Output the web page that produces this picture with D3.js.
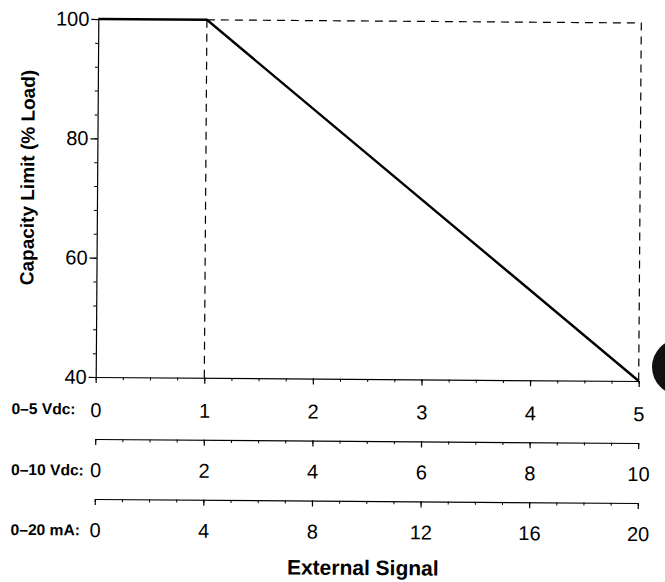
<!DOCTYPE html>
<html>
<head>
<meta charset="utf-8">
<script src="https://cdn.jsdelivr.net/npm/d3@7"></script>
<style>
  html, body { margin: 0; padding: 0; background: #fff; }
  svg { display: block; font-family: "Liberation Sans", Arial, Helvetica, sans-serif; }
</style>
</head>
<body>
<div id="chart"></div>
<script>
// capacity limit vs. external signal (signal read on the 0-5 Vdc scale)
const signal = [0, 1, 5];
const capacityLimit = [100, 100, 40];

// dashed guide lines
const guideSignal = [1, 5];
const yTicks = [40, 60, 80, 100];

// the three signal scales under the plot
const rowLabels = ["0–5 Vdc:", "0–10 Vdc:", "0–20 mA:"];
const rowMax = [5, 10, 20];
const rowTicks = [
    [0, 1, 2, 3, 4, 5],
    [0, 2, 4, 6, 8, 10],
    [0, 4, 8, 12, 16, 20]
];

const width = 665, height = 582;
const plotLeft = 97, plotRight = 640, plotTop = 21, plotBottom = 379;
const rowY = [379, 441, 501];
const labelDrop = [40, 38, 38];
const rowLabelBase = [416.5, 477.5, 537.5];

const svg = d3.select('#chart').append('svg')
    .attr('width', width)
    .attr('height', height);

// the scan sits slightly rotated
const g = svg.append('g')
    .attr('transform', 'rotate(0.42, 367, 200)');

const x = d3.scaleLinear().domain([0, 5]).range([plotLeft, plotRight]);
const y = d3.scaleLinear().domain([40, 100]).range([plotBottom, plotTop]);

const styleLabels = a => a.selectAll('text')
    .attr('font-size', 20)
    .attr('font-family', '"Liberation Sans", Arial, sans-serif')
    .attr('fill', '#000');

// y axis
const yMinor = d3.range(40, 100.001, 4);
g.append('g')
    .attr('transform', `translate(${plotLeft},0)`)
    .call(d3.axisLeft(y).tickValues(yMinor).tickSize(3).tickSizeOuter(0).tickFormat(''))
    .call(a => a.select('.domain').attr('stroke-width', 1.2));
g.append('g')
    .attr('transform', `translate(${plotLeft},0)`)
    .call(d3.axisLeft(y).tickValues(yTicks).tickSize(7).tickPadding(2).tickSizeOuter(0).tickFormat(d3.format('d')))
    .call(a => a.select('.domain').remove())
    .call(a => a.selectAll('line').attr('stroke-width', 1.2))
    .call(styleLabels);

// three x scales
rowMax.forEach((m, i) => {
    const sx = d3.scaleLinear().domain([0, m]).range([plotLeft, plotRight]);
    const minor = d3.range(0, m + 1e-6, m / 20);
    const row = g.append('g').attr('transform', `translate(0,${rowY[i]})`);
    row.append('g')
        .call(d3.axisBottom(sx).tickValues(minor).tickSize(3).tickSizeOuter(0).tickFormat(''))
        .call(a => a.select('.domain').attr('stroke-width', 1.2));
    row.append('g')
        .call(d3.axisBottom(sx).tickValues(rowTicks[i]).tickSize(6).tickSizeOuter(0)
            .tickPadding(labelDrop[i] - 6 - 14.2).tickFormat(d3.format('d')))
        .call(a => a.select('.domain').remove())
        .call(a => a.selectAll('line').attr('stroke-width', 1.2))
        .call(styleLabels);
    g.append('text')
        .attr('x', 13)
        .attr('y', rowLabelBase[i])
        .attr('font-size', 15.6)
        .attr('font-weight', 'bold')
        .text(rowLabels[i]);
});

// dashed guides
g.append('path')
    .attr('d', d3.line()([
        [x(guideSignal[0]), y(100)], [x(guideSignal[1]), y(100)], [x(guideSignal[1]), y(40)]
    ]))
    .attr('fill', 'none')
    .attr('stroke', '#000')
    .attr('stroke-width', 1.2)
    .attr('stroke-dasharray', '8,6');
g.append('path')
    .attr('d', d3.line()([[x(guideSignal[0]), y(100)], [x(guideSignal[0]), y(40)]]))
    .attr('fill', 'none')
    .attr('stroke', '#000')
    .attr('stroke-width', 1.2)
    .attr('stroke-dasharray', '8,6');

// the limit curve
g.append('path')
    .datum(signal.map((s, i) => [s, capacityLimit[i]]))
    .attr('d', d3.line().x(d => x(d[0])).y(d => y(d[1])))
    .attr('fill', 'none')
    .attr('stroke', '#000')
    .attr('stroke-width', 2.4);

// axis titles
g.append('text')
    .attr('transform', 'translate(34,180) rotate(-90)')
    .attr('text-anchor', 'middle')
    .attr('font-size', 19)
    .attr('font-weight', 'bold')
    .text('Capacity Limit (% Load)');

g.append('text')
    .attr('x', (plotLeft + plotRight) / 2 - 3)
    .attr('y', 575)
    .attr('text-anchor', 'middle')
    .attr('font-size', 21)
    .attr('font-weight', 'bold')
    .text('External Signal');

// punch hole on the scanned page edge
svg.append('circle')
    .attr('cx', 680)
    .attr('cy', 367)
    .attr('r', 28)
    .attr('fill', '#111');
</script>
</body>
</html>
